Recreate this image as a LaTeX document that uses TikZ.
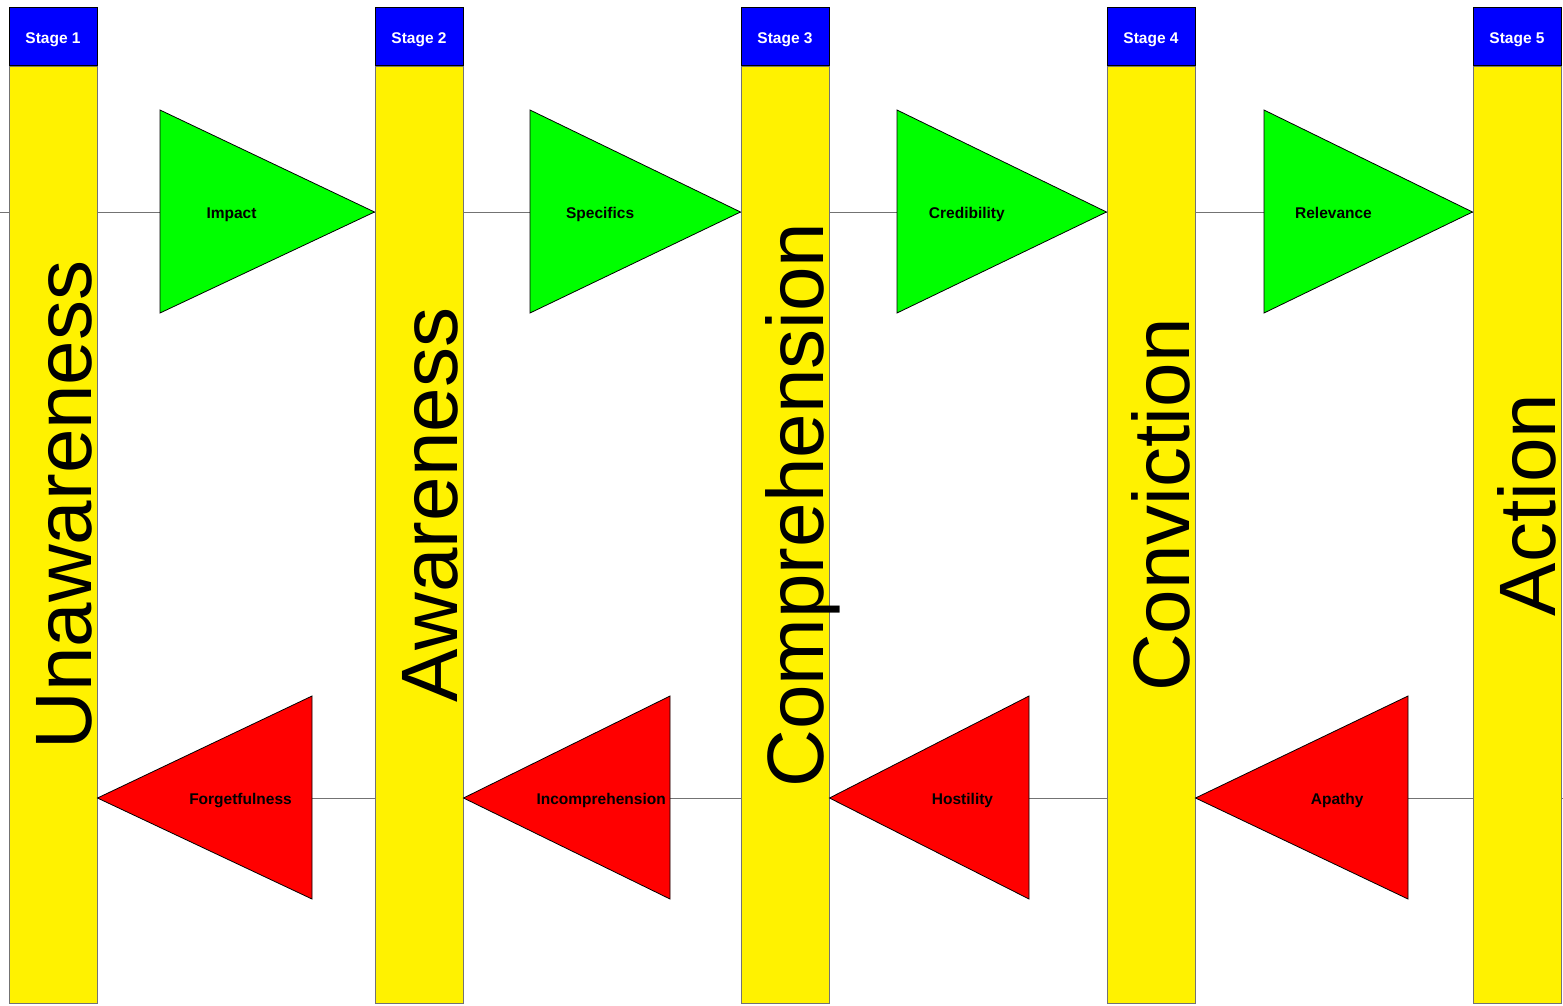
\documentclass[tikz,border=0pt]{standalone}
\usepackage{fontspec}
\setmainfont{Liberation Sans}
\usetikzlibrary{positioning}
\usetikzlibrary{calc}

\tikzset{
  stagehead/.style={draw=black, line width=1pt, fill=blue, text=white, inner sep=0pt,
    minimum width=88pt, minimum height=58pt, text height=14.6pt, text depth=0pt,
    font=\bfseries\fontsize{15.5}{18}\selectfont},
  stagebody/.style={draw=black!55, line width=1pt, fill=yellow, inner sep=0pt,
    minimum width=88pt, minimum height=937pt},
  bigword/.style={rotate=90, anchor=base, inner sep=0pt, font=\fontsize{80}{96}\selectfont},
  link/.style={draw=black!55, line width=1pt},
  gotri/.style={draw=black, fill=green, line width=0.8pt},
  backtri/.style={draw=black, fill=red, line width=0.8pt},
  trilabel/.style={font=\bfseries\fontsize{15.5}{18}\selectfont, inner sep=0pt,
    text height=13pt, text depth=0pt}
}

\begin{document}
\begin{tikzpicture}[x=1pt, y=-1pt]
    \useasboundingbox (0,0) rectangle (1563,1005);

    % stages
    \foreach \i/\x in {1/53, 2/419, 3/785, 4/1151, 5/1517}{
        \node[stagehead] (s\i) at (\x,36) {Stage \i};
        \node[stagebody, below=0pt of s\i] (c\i) {};
    }

    % guide lines
    \coordinate (tl) at (0,212);
    \coordinate (br) at (1563,798);
    \draw[link] (tl) -- (c1.west |- tl);
    \foreach \i/\j in {1/2, 2/3, 3/4, 4/5}{
        \draw[link] (c\i.east |- tl) -- (c\j.west |- tl);
        \draw[link] (c\i.east |- br) -- (c\j.west |- br);
    }
    \draw[link] (c5.east |- br) -- (br);

    % big words
    \foreach \i/\w in {1/Unawareness, 2/Awareness, 3/Comprehension, 4/Conviction, 5/Action}
        \node[bigword] (w\i) at ([xshift=38pt]c\i.center |- 0,505) {\w};

    % forward triangles
    \foreach \i/\j/\gx/\t in {1/2/160/Impact, 2/3/530/Specifics, 3/4/897/Credibility, 4/5/1264/Relevance}{
        \coordinate (gt\i) at (\gx,110);
        \coordinate (gb\i) at (\gx,313);
        \coordinate (gp\i) at (c\j.west |- tl);
        \draw[gotri] (gt\i) -- (gp\i) -- (gb\i) -- cycle;
        \node[trilabel] (g\i) at ($(gt\i)!0.5!(gb\i)!1/3!(gp\i)$) {\t};
    }

    % backward triangles
    \foreach \i/\rx/\t in {1/312/Forgetfulness, 2/670/Incomprehension, 3/1029/Hostility, 4/1408/Apathy}{
        \coordinate (rt\i) at (\rx,696);
        \coordinate (rb\i) at (\rx,899);
        \coordinate (rp\i) at (c\i.east |- br);
        \draw[backtri] (rt\i) -- (rp\i) -- (rb\i) -- cycle;
        \node[trilabel] (r\i) at ($(rt\i)!0.5!(rb\i)!1/3!(rp\i)$) {\t};
    }

\end{tikzpicture}
\end{document}
